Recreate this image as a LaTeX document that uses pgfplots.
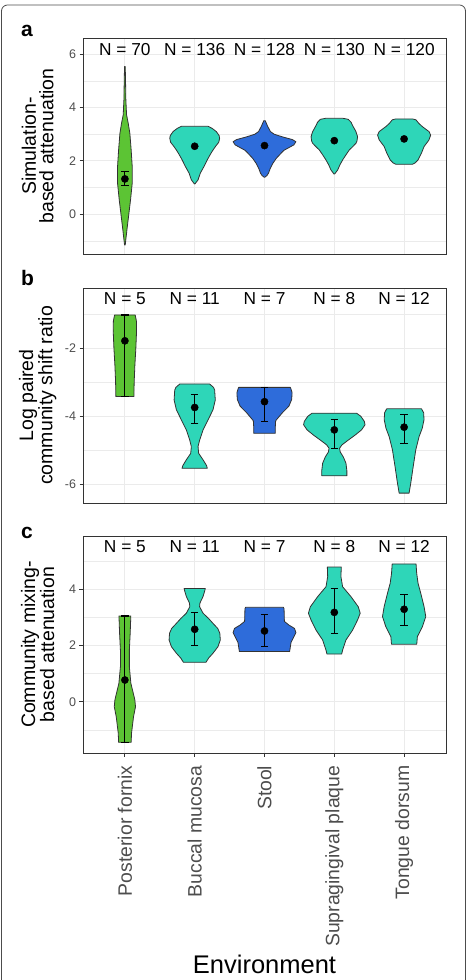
\documentclass[border=0pt]{standalone}
\usepackage{pgfplots}
\pgfplotsset{compat=1.18}
\usepackage{fontspec}
\setmainfont{Liberation Sans}
\definecolor{cgreen}{RGB}{92,196,52}
\definecolor{cteal}{RGB}{46,214,184}
\definecolor{cblue}{RGB}{46,108,218}
\definecolor{framec}{RGB}{51,51,51}
\definecolor{gridc}{RGB}{235,235,235}
\definecolor{tickc}{RGB}{77,77,77}
\tikzset{nlab/.style={font=\fontsize{17.3}{18}\selectfont, anchor=center, inner sep=0pt}}
\pgfplotsset{
  vio/.style={draw=framec, line width=0.8pt, line join=round, fill=#1},
  dots/.style={only marks, mark=*, mark size=3.6pt, black},
  errs/.style={only marks, mark=*, mark size=3.6pt, black,
    error bars/.cd, y dir=both, y explicit,
    error bar style={line width=1.1pt, black},
    error mark options={rotate=90, mark size=3.7pt, line width=1.1pt, black}},
  myaxis/.style={
    scale only axis, width=363pt,
    xmin=0.4, xmax=5.6,
    xtick={1,2,3,4,5}, xticklabels={},
    xtick pos=bottom, ytick pos=left,
    grid=both,
    major grid style={color=gridc, line width=0.9pt},
    minor grid style={color=gridc, line width=0.45pt},
    axis line style={draw=framec, line width=0.9pt},
    tick style={color=framec, line width=0.9pt},
    major tick length=3.5pt, minor tick length=0pt, tick align=outside,
    yticklabel style={font=\fontsize{12.5}{14}\selectfont, text=tickc},
    ylabel style={at={(axis description cs:-0.125,0.5)}, anchor=center, align=center,
      font=\fontsize{19.5}{17.5}\selectfont},
    /pgf/number format/assume math mode=true,
  },
}
\begin{document}
\begin{tikzpicture}[x=1pt,y=1pt]
\useasboundingbox (0,0) rectangle (467,980);
\draw[rounded corners=6pt, color=gray!60!black, line width=0.8pt] (1.5,-20) rectangle (465.5,975);

% ---------------- panel a ----------------
\begin{axis}[myaxis, at={(83pt,726pt)}, anchor=south west, height=216pt,
  ymin=-1.49, ymax=6.61, ytick={0,2,4,6}, minor ytick={-1,1,3,5},
  major x tick style={draw=none},
  ylabel={Simulation-\\based attenuation}]
\addplot[vio=cgreen] table[x expr=\thisrow{d}+1, y=y, row sep=\\] {d y\\
-0.005 5.54\\ -0.01 4.91\\ -0.014 4.29\\ -0.024 3.73\\ -0.048 3.41\\ -0.071 3.04\\ -0.09 2.41\\ -0.105 1.79\\ -0.105 1.16\\ -0.081 0.54\\ -0.052 -0.09\\ -0.029 -0.59\\ -0.005 -1.15\\
0.005 -1.15\\ 0.029 -0.59\\ 0.052 -0.09\\ 0.081 0.54\\ 0.105 1.16\\ 0.105 1.79\\ 0.09 2.41\\ 0.071 3.04\\ 0.048 3.41\\ 0.024 3.73\\ 0.014 4.29\\ 0.01 4.91\\ 0.005 5.54\\
} -- cycle;
\addplot[vio=cteal] table[x expr=\thisrow{d}+2, y=y, row sep=\\] {d y\\
-0.19 3.30\\ -0.25 3.22\\ -0.31 3.1\\ -0.35 2.95\\ -0.357 2.85\\ -0.345 2.7\\ -0.3 2.55\\ -0.26 2.4\\ -0.225 2.25\\ -0.18 2.04\\ -0.133 1.79\\ -0.08 1.54\\ -0.048 1.29\\ -0.005 1.14\\
0.005 1.14\\ 0.048 1.29\\ 0.08 1.54\\ 0.133 1.79\\ 0.18 2.04\\ 0.225 2.25\\ 0.26 2.4\\ 0.3 2.55\\ 0.345 2.7\\ 0.357 2.85\\ 0.35 2.95\\ 0.31 3.1\\ 0.25 3.22\\ 0.19 3.30\\
} -- cycle;
\addplot[vio=cblue] table[x expr=\thisrow{d}+3, y=y, row sep=\\] {d y\\
-0.01 3.51\\ -0.045 3.3\\ -0.085 3.1\\ -0.14 3.0\\ -0.26 2.9\\ -0.4 2.8\\ -0.45 2.72\\ -0.42 2.6\\ -0.35 2.5\\ -0.28 2.4\\ -0.238 2.29\\ -0.17 2.1\\ -0.12 1.91\\ -0.08 1.7\\ -0.057 1.54\\ -0.035 1.45\\ -0.005 1.39\\
0.005 1.39\\ 0.035 1.45\\ 0.057 1.54\\ 0.08 1.7\\ 0.12 1.91\\ 0.17 2.1\\ 0.238 2.29\\ 0.28 2.4\\ 0.35 2.5\\ 0.42 2.6\\ 0.45 2.72\\ 0.4 2.8\\ 0.26 2.9\\ 0.14 3.0\\ 0.085 3.1\\ 0.045 3.3\\ 0.01 3.51\\
} -- cycle;
\addplot[vio=cteal] table[x expr=\thisrow{d}+4, y=y, row sep=\\] {d y\\
-0.12 3.60\\ -0.2 3.56\\ -0.24 3.45\\ -0.27 3.29\\ -0.31 3.1\\ -0.333 2.91\\ -0.325 2.75\\ -0.31 2.66\\ -0.25 2.5\\ -0.214 2.41\\ -0.16 2.2\\ -0.12 2.04\\ -0.08 1.85\\ -0.048 1.66\\ -0.005 1.51\\
0.005 1.51\\ 0.048 1.66\\ 0.08 1.85\\ 0.12 2.04\\ 0.16 2.2\\ 0.214 2.41\\ 0.25 2.5\\ 0.31 2.66\\ 0.325 2.75\\ 0.333 2.91\\ 0.31 3.1\\ 0.27 3.29\\ 0.24 3.45\\ 0.2 3.56\\ 0.12 3.60\\
} -- cycle;
\addplot[vio=cteal] table[x expr=\thisrow{d}+5, y=y, row sep=\\] {d y\\
-0.12 3.575\\ -0.17 3.54\\ -0.21 3.41\\ -0.26 3.29\\ -0.357 3.1\\ -0.38 2.97\\ -0.357 2.79\\ -0.286 2.54\\ -0.248 2.29\\ -0.2 2.04\\ -0.16 1.93\\ -0.12 1.875\\
0.12 1.875\\ 0.16 1.93\\ 0.2 2.04\\ 0.248 2.29\\ 0.286 2.54\\ 0.357 2.79\\ 0.38 2.97\\ 0.357 3.1\\ 0.26 3.29\\ 0.21 3.41\\ 0.17 3.54\\ 0.12 3.575\\
} -- cycle;
\addplot[errs] table[x=x, y=y, y error plus=ep, y error minus=em, row sep=\\] {x y ep em\\ 1 1.325 0.275 0.25\\};
\addplot[dots] table[x=x, y=y, row sep=\\] {x y\\ 2 2.55\\ 3 2.575\\ 4 2.76\\ 5 2.825\\};
\node[nlab] at (axis cs:1,6.16) {N = 70};
\node[nlab] at (axis cs:2,6.16) {N = 136};
\node[nlab] at (axis cs:3,6.16) {N = 128};
\node[nlab] at (axis cs:4,6.16) {N = 130};
\node[nlab] at (axis cs:5,6.16) {N = 120};
\end{axis}

% ---------------- panel b ----------------
\begin{axis}[myaxis, at={(83pt,477pt)}, anchor=south west, height=215pt,
  ymin=-6.55, ymax=-0.226, ytick={-6,-4,-2}, minor ytick={-5,-3,-1},
  major x tick style={draw=none},
  ylabel={Log paired\\community shift ratio}]
\addplot[vio=cgreen] table[x expr=\thisrow{d}+1, y=y, row sep=\\] {d y\\
-0.148 -1.02\\ -0.165 -1.2\\ -0.167 -1.5\\ -0.157 -2.0\\ -0.143 -2.5\\ -0.133 -3.0\\ -0.129 -3.42\\
0.129 -3.42\\ 0.133 -3.0\\ 0.143 -2.5\\ 0.157 -2.0\\ 0.167 -1.5\\ 0.165 -1.2\\ 0.148 -1.02\\
} -- cycle;
\addplot[vio=cteal] table[x expr=\thisrow{d}+2, y=y, row sep=\\] {d y\\
-0.214 -3.05\\ -0.27 -3.15\\ -0.286 -3.23\\ -0.295 -3.52\\ -0.262 -3.81\\ -0.19 -4.11\\ -0.12 -4.40\\ -0.071 -4.70\\ -0.048 -4.89\\ -0.057 -5.09\\ -0.12 -5.28\\ -0.17 -5.45\\ -0.181 -5.53\\
0.181 -5.53\\ 0.17 -5.45\\ 0.12 -5.28\\ 0.057 -5.09\\ 0.048 -4.89\\ 0.071 -4.70\\ 0.12 -4.40\\ 0.19 -4.11\\ 0.262 -3.81\\ 0.295 -3.52\\ 0.286 -3.23\\ 0.27 -3.15\\ 0.214 -3.05\\
} -- cycle;
\addplot[vio=cblue] table[x expr=\thisrow{d}+3, y=y, row sep=\\] {d y\\
-0.371 -3.15\\ -0.395 -3.3\\ -0.39 -3.5\\ -0.35 -3.7\\ -0.25 -3.91\\ -0.16 -4.13\\ -0.155 -4.3\\ -0.155 -4.5\\
0.155 -4.5\\ 0.155 -4.3\\ 0.16 -4.13\\ 0.25 -3.91\\ 0.35 -3.7\\ 0.39 -3.5\\ 0.395 -3.3\\ 0.371 -3.15\\
} -- cycle;
\addplot[vio=cteal] table[x expr=\thisrow{d}+4, y=y, row sep=\\] {d y\\
-0.32 -3.91\\ -0.38 -4.0\\ -0.43 -4.15\\ -0.44 -4.25\\ -0.39 -4.4\\ -0.3 -4.55\\ -0.2 -4.7\\ -0.11 -4.84\\ -0.075 -4.94\\ -0.085 -5.05\\ -0.13 -5.2\\ -0.167 -5.38\\ -0.18 -5.6\\ -0.18 -5.75\\
0.18 -5.75\\ 0.18 -5.6\\ 0.167 -5.38\\ 0.13 -5.2\\ 0.085 -5.05\\ 0.075 -4.94\\ 0.11 -4.84\\ 0.2 -4.7\\ 0.3 -4.55\\ 0.39 -4.4\\ 0.44 -4.25\\ 0.43 -4.15\\ 0.38 -4.0\\ 0.32 -3.91\\
} -- cycle;
\addplot[vio=cteal] table[x expr=\thisrow{d}+5, y=y, row sep=\\] {d y\\
-0.25 -3.78\\ -0.28 -3.9\\ -0.285 -4.1\\ -0.26 -4.35\\ -0.214 -4.6\\ -0.167 -4.99\\ -0.13 -5.48\\ -0.095 -5.97\\ -0.071 -6.26\\
0.071 -6.26\\ 0.095 -5.97\\ 0.13 -5.48\\ 0.167 -4.99\\ 0.214 -4.6\\ 0.26 -4.35\\ 0.285 -4.1\\ 0.28 -3.9\\ 0.25 -3.78\\
} -- cycle;
\addplot[errs] table[x=x, y=y, y error plus=ep, y error minus=em, row sep=\\] {x y ep em\\
1 -1.78 0.76 1.64\\ 2 -3.74 0.38 0.47\\ 3 -3.57 0.41 0.57\\ 4 -4.40 0.30 0.54\\ 5 -4.32 0.36 0.47\\};
\node[nlab] at (axis cs:1,-0.53) {N = 5};
\node[nlab] at (axis cs:2,-0.53) {N = 11};
\node[nlab] at (axis cs:3,-0.53) {N = 7};
\node[nlab] at (axis cs:4,-0.53) {N = 8};
\node[nlab] at (axis cs:5,-0.53) {N = 12};
\end{axis}

% ---------------- panel c ----------------
\begin{axis}[myaxis, at={(83pt,227pt)}, anchor=south west, height=217pt,
  ymin=-1.82, ymax=5.88, ytick={0,2,4}, minor ytick={-1,1,3,5},
  xticklabels={Posterior fornix, Buccal mucosa, Stool, Supragingival plaque, Tongue dorsum},
  xticklabel style={yshift=-9pt, rotate=90, anchor=east, inner sep=0pt,
    font=\fontsize{19.4}{20}\selectfont, text=tickc},
  ylabel={Community mixing-\\based attenuation}]
\addplot[vio=cgreen] table[x expr=\thisrow{d}+1, y=y, row sep=\\] {d y\\
-0.085 3.04\\ -0.076 2.43\\ -0.064 1.83\\ -0.064 1.24\\ -0.086 0.65\\ -0.13 0.2\\ -0.143 0.06\\ -0.152 -0.18\\ -0.124 -0.53\\ -0.095 -1.12\\ -0.09 -1.44\\
0.09 -1.44\\ 0.095 -1.12\\ 0.124 -0.53\\ 0.152 -0.18\\ 0.143 0.06\\ 0.13 0.2\\ 0.086 0.65\\ 0.064 1.24\\ 0.064 1.83\\ 0.076 2.43\\ 0.085 3.04\\
} -- cycle;
\addplot[vio=cteal] table[x expr=\thisrow{d}+2, y=y, row sep=\\] {d y\\
-0.152 4.02\\ -0.14 3.9\\ -0.119 3.73\\ -0.075 3.5\\ -0.07 3.37\\ -0.12 3.14\\ -0.2 2.95\\ -0.262 2.78\\ -0.33 2.6\\ -0.36 2.43\\ -0.367 2.19\\ -0.333 1.95\\ -0.262 1.72\\ -0.2 1.55\\ -0.162 1.40\\
0.162 1.40\\ 0.2 1.55\\ 0.262 1.72\\ 0.333 1.95\\ 0.367 2.19\\ 0.36 2.43\\ 0.33 2.6\\ 0.262 2.78\\ 0.2 2.95\\ 0.12 3.14\\ 0.07 3.37\\ 0.075 3.5\\ 0.119 3.73\\ 0.14 3.9\\ 0.152 4.02\\
} -- cycle;
\addplot[vio=cblue] table[x expr=\thisrow{d}+3, y=y, row sep=\\] {d y\\
-0.271 3.35\\ -0.28 3.3\\ -0.285 2.85\\ -0.35 2.72\\ -0.43 2.6\\ -0.45 2.45\\ -0.42 2.3\\ -0.38 2.1\\ -0.36 1.78\\
0.36 1.78\\ 0.38 2.1\\ 0.42 2.3\\ 0.45 2.45\\ 0.43 2.6\\ 0.35 2.72\\ 0.285 2.85\\ 0.28 3.3\\ 0.271 3.35\\
} -- cycle;
\addplot[vio=cteal] table[x expr=\thisrow{d}+4, y=y, row sep=\\] {d y\\
-0.1 4.78\\ -0.095 4.44\\ -0.119 4.08\\ -0.238 3.73\\ -0.343 3.37\\ -0.371 3.14\\ -0.333 2.90\\ -0.262 2.54\\ -0.167 2.19\\ -0.119 1.83\\ -0.105 1.69\\
0.105 1.69\\ 0.119 1.83\\ 0.167 2.19\\ 0.262 2.54\\ 0.333 2.90\\ 0.371 3.14\\ 0.343 3.37\\ 0.238 3.73\\ 0.119 4.08\\ 0.095 4.44\\ 0.1 4.78\\
} -- cycle;
\addplot[vio=cteal] table[x expr=\thisrow{d}+5, y=y, row sep=\\] {d y\\
-0.171 4.89\\ -0.18 4.56\\ -0.2 4.2\\ -0.238 3.85\\ -0.286 3.37\\ -0.31 3.02\\ -0.262 2.66\\ -0.19 2.31\\ -0.181 2.04\\
0.181 2.04\\ 0.19 2.31\\ 0.262 2.66\\ 0.31 3.02\\ 0.286 3.37\\ 0.238 3.85\\ 0.2 4.2\\ 0.18 4.56\\ 0.171 4.89\\
} -- cycle;
\addplot[errs] table[x=x, y=y, y error plus=ep, y error minus=em, row sep=\\] {x y ep em\\
1 0.77 2.27 2.21\\ 2 2.57 0.60 0.57\\ 3 2.51 0.60 0.56\\ 4 3.17 0.85 0.74\\ 5 3.28 0.54 0.58\\};
\node[nlab] at (axis cs:1,5.5) {N = 5};
\node[nlab] at (axis cs:2,5.5) {N = 11};
\node[nlab] at (axis cs:3,5.5) {N = 7};
\node[nlab] at (axis cs:4,5.5) {N = 8};
\node[nlab] at (axis cs:5,5.5) {N = 12};
\end{axis}

\node[anchor=base west, inner sep=0pt, font=\fontsize{21}{22}\selectfont\bfseries] at (21,943) {a};
\node[anchor=base west, inner sep=0pt, font=\fontsize{21}{22}\selectfont\bfseries] at (21,694) {b};
\node[anchor=base west, inner sep=0pt, font=\fontsize{21}{22}\selectfont\bfseries] at (21,441) {c};
\node[anchor=base, inner sep=0pt, font=\fontsize{25.5}{26}\selectfont] at (264.5,6) {Environment};
\end{tikzpicture}
\end{document}
